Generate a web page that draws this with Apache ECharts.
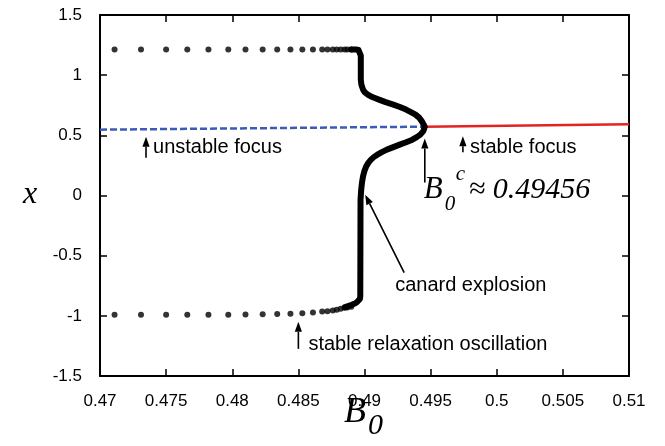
<!DOCTYPE html>
<html>
<head>
<meta charset="utf-8">
<script src="https://cdn.jsdelivr.net/npm/echarts@6/dist/echarts.min.js"></script>
<style>
  html, body { margin: 0; padding: 0; background: #fff; }
  #chart { width: 665px; height: 446px; }
</style>
</head>
<body>
<div id="chart"></div>
<script>
// Relaxation oscillation: max and min of x for each sampled B0
const relaxB0  = [0.4711, 0.4731, 0.4750, 0.4766, 0.4782, 0.4797, 0.4810, 0.4823, 0.4834, 0.4844,
                  0.4853, 0.4861, 0.4868, 0.4872, 0.4876, 0.4879, 0.4882, 0.4885, 0.4887, 0.4890];
const relaxMax = [1.213, 1.213, 1.213, 1.213, 1.213, 1.213, 1.213, 1.213, 1.213, 1.213,
                  1.213, 1.213, 1.213, 1.213, 1.213, 1.213, 1.213, 1.213, 1.213, 1.213];
const relaxMin = [-0.99, -0.99, -0.99, -0.99, -0.99, -0.99, -0.988, -0.986, -0.984, -0.982,
                  -0.978, -0.973, -0.965, -0.961, -0.956, -0.950, -0.941, -0.933, -0.930, -0.925];

// Canard branch: max envelope down to the Hopf point, then min envelope back
const canardB0 = [0.48899, 0.48936, 0.48955, 0.48967, 0.48972, 0.48972, 0.48976, 0.48989, 0.49001, 0.49025,
                  0.49059, 0.49109, 0.49160, 0.49218, 0.49268, 0.49314, 0.49351, 0.49386, 0.49413, 0.49434,
                  0.49447, 0.49456,
                  0.49445, 0.49422, 0.49395, 0.49362, 0.49315, 0.49266, 0.49218, 0.49169, 0.49131, 0.49097,
                  0.49070, 0.49049, 0.49030, 0.49013, 0.48999, 0.48989, 0.48981, 0.48975, 0.48970, 0.48968,
                  0.48965, 0.48956, 0.48942, 0.48921, 0.48904, 0.48876, 0.48853];
const canardX  = [1.213, 1.213, 1.209, 1.196, 1.163, 0.963, 0.922, 0.880, 0.859, 0.839,
                  0.818, 0.797, 0.776, 0.755, 0.735, 0.714, 0.693, 0.672, 0.647, 0.616,
                  0.589, 0.572,
                  0.535, 0.506, 0.485, 0.464, 0.443, 0.423, 0.402, 0.381, 0.360, 0.339,
                  0.319, 0.298, 0.273, 0.242, 0.202, 0.159, 0.107, 0.048, -0.035, -0.839,
                  -0.860, -0.875, -0.888, -0.900, -0.908, -0.919, -0.928];

// Equilibrium branch on both sides of the Hopf point
const hopfB0 = 0.49456;
const unstableB0 = [0.47, hopfB0];
const unstableX  = [0.547, 0.572];
const stableB0   = [hopfB0, 0.51];
const stableX    = [0.572, 0.593];

const xTickLabels = ['0.47', '0.475', '0.48', '0.485', '0.49', '0.495', '0.5', '0.505', '0.51'];
const yTickLabels = ['-1.5', '-1', '-0.5', '0', '0.5', '1', '1.5'];

// Arrow annotations: tip in data coordinates, shaft offset and text offset in pixels
const notes = [
  { text: 'unstable focus', tip: [0.47348, 0.489], tail: [0, 21], label: [7, 11] },
  { text: 'stable focus', tip: [0.49744, 0.492], tail: [0, 16], label: [7, 11] },
  { text: 'stable relaxation oscillation', tip: [0.4850, -1.05], tail: [0, 27], label: [10, 23] },
  { text: 'canard explosion', tip: [0.49005, 0.007], tail: [39, 78], label: [30, 91] },
  { text: '', tip: [hopfB0, 0.473], tail: [0, 44], label: [0, 0] }
];

const zip = (a, b) => a.map((v, i) => [v, b[i]]);
const SANS = '"Liberation Sans", Arial, Helvetica, sans-serif';
const SERIF = '"Liberation Serif", "Times New Roman", serif';

const chart = echarts.init(document.getElementById('chart'), null, { renderer: 'canvas' });

const frameAxis = (extra) => Object.assign({
  type: 'value',
  axisLine: { show: true, onZero: false, lineStyle: { color: '#000', width: 2 } },
  axisTick: { show: true, inside: true, length: 7, lineStyle: { color: '#000', width: 1.5 } },
  splitLine: { show: false }
}, extra);

chart.setOption({
  backgroundColor: '#fff',
  animation: false,
  grid: { left: 100, right: 36, top: 15, bottom: 70, outerBoundsMode: 'none' },
  xAxis: [
    frameAxis({
      min: 0.47, max: 0.51, interval: 0.005, position: 'bottom',
      axisLabel: {
        margin: 17, color: '#000', fontSize: 17, fontFamily: SANS,
        formatter: (v, i) => xTickLabels[i]
      }
    }),
    frameAxis({ min: 0.47, max: 0.51, interval: 0.005, position: 'top', axisLabel: { show: false } })
  ],
  yAxis: [
    frameAxis({
      min: -1.5, max: 1.5, interval: 0.5, position: 'left',
      axisLabel: {
        margin: 18, color: '#000', fontSize: 17, fontFamily: SANS,
        formatter: (v, i) => yTickLabels[i]
      }
    }),
    frameAxis({ min: -1.5, max: 1.5, interval: 0.5, position: 'right', axisLabel: { show: false } })
  ],
  series: [
    {
      name: 'unstable focus', type: 'line', data: zip(unstableB0, unstableX),
      showSymbol: false, lineStyle: { color: '#3a5bb8', width: 2.5, type: [7, 3] }, z: 2
    },
    {
      name: 'stable focus', type: 'line', data: zip(stableB0, stableX),
      showSymbol: false, lineStyle: { color: '#e3231f', width: 2.5 }, z: 2
    },
    {
      name: 'max x', type: 'scatter', data: zip(relaxB0, relaxMax),
      symbol: 'circle', symbolSize: 6, itemStyle: { color: '#000' }, z: 3
    },
    {
      name: 'min x', type: 'scatter', data: zip(relaxB0, relaxMin),
      symbol: 'circle', symbolSize: 6, itemStyle: { color: '#000' }, z: 3
    },
    {
      name: 'canard', type: 'line', data: zip(canardB0, canardX),
      showSymbol: false, smooth: false,
      lineStyle: { color: '#000', width: 6, cap: 'round', join: 'round' }, z: 4
    }
  ]
});

// Annotations placed from data coordinates
function arrow(tip, tail) {
  const ang = Math.atan2(tip[1] - tail[1], tip[0] - tail[0]);
  const hl = 10, hw = 3.6;
  const bx = tip[0] - hl * Math.cos(ang), by = tip[1] - hl * Math.sin(ang);
  const nx = -Math.sin(ang), ny = Math.cos(ang);
  return [
    { type: 'line', shape: { x1: tail[0], y1: tail[1], x2: bx, y2: by },
      style: { stroke: '#000', lineWidth: 1.6 } },
    { type: 'polygon', shape: { points: [tip, [bx + nx * hw, by + ny * hw], [bx - nx * hw, by - ny * hw]] },
      style: { fill: '#000' } }
  ];
}

const g = [];
notes.forEach(n => {
  const p = chart.convertToPixel({ gridIndex: 0 }, n.tip);
  const t = [p[0] + n.tail[0], p[1] + n.tail[1]];
  g.push(...arrow(p, t));
  if (n.text) {
    g.push({ type: 'text', style: {
      text: n.text, x: p[0] + n.label[0], y: p[1] + n.label[1],
      font: '20px ' + SANS, fill: '#000', align: 'left', verticalAlign: 'middle'
    } });
  }
});

// Hopf value label under its arrow
const hp = chart.convertToPixel({ gridIndex: 0 }, [hopfB0, 0.473]);
const lx = hp[0] - 1, ly = hp[1] + 67;
g.push(
  { type: 'text', style: { text: 'B', x: lx, y: ly, font: 'italic 31px ' + SERIF, fill: '#000', verticalAlign: 'bottom' } },
  { type: 'text', style: { text: '0', x: lx + 21, y: ly + 9, font: 'italic 21px ' + SERIF, fill: '#000', verticalAlign: 'bottom' } },
  { type: 'text', style: { text: 'c', x: lx + 32, y: ly - 21, font: 'italic 21px ' + SERIF, fill: '#000', verticalAlign: 'bottom' } },
  { type: 'text', style: { text: '≈ 0.49456', x: lx + 45, y: ly, font: 'italic 30px ' + SERIF, fill: '#000', verticalAlign: 'bottom' } }
);

// Axis titles
g.push(
  { type: 'text', style: { text: 'x', x: 30, y: 195, font: 'italic 32px ' + SERIF, fill: '#000', align: 'center', verticalAlign: 'middle' } },
  { type: 'text', style: { text: 'B', x: 344, y: 431, font: 'italic 36px ' + SERIF, fill: '#000', verticalAlign: 'bottom' } },
  { type: 'text', style: { text: '0', x: 368, y: 441, font: 'italic 30px ' + SERIF, fill: '#000', verticalAlign: 'bottom' } }
);

chart.setOption({ graphic: g.map(e => Object.assign({ silent: true, z: 100 }, e)) });
</script>
</body>
</html>
